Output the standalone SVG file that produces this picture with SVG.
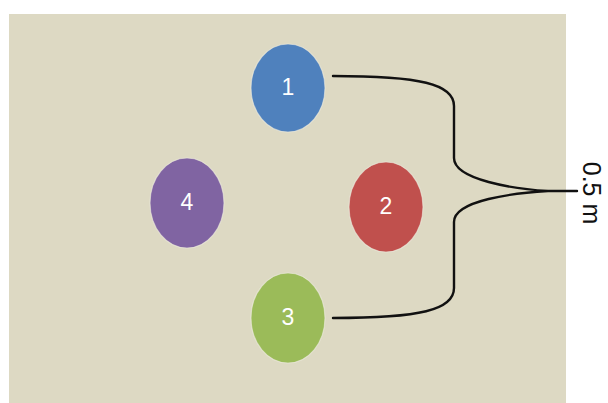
<svg xmlns="http://www.w3.org/2000/svg" width="608" height="403" viewBox="0 0 608 403">
<style>
.node ellipse{stroke:#eeece1;stroke-width:1.2;stroke-opacity:0.6}
.lbl{font-family:"Liberation Sans",Arial,sans-serif;font-size:23px;fill:#ffffff;text-anchor:middle}
.brace{fill:none;stroke:#111111;stroke-width:2.4;stroke-linecap:round}
</style>
<rect width="608" height="403" fill="#ffffff"/>
<rect x="9" y="14" width="557" height="389" fill="#ddd9c3"/>
<g id="node1" class="node"><ellipse cx="288" cy="88" rx="37" ry="44" fill="#4f81bd"/><text class="lbl" x="288" y="95">1</text></g>
<g id="node2" class="node"><ellipse cx="386" cy="207" rx="37" ry="45" fill="#c0504d"/><text class="lbl" x="386" y="214">2</text></g>
<g id="node3" class="node"><ellipse cx="288" cy="318" rx="37" ry="45" fill="#9bbb59"/><text class="lbl" x="288" y="325">3</text></g>
<g id="node4" class="node"><ellipse cx="187" cy="203" rx="37" ry="45" fill="#8064a2"/><text class="lbl" x="187" y="210">4</text></g>
<g id="connectors">
<path class="brace" d="M333,76 C420,76 454,84 454,106 L454,158 C454,180 515,189 548,191 L577,191 M548,191 C515,193 454,200 454,222 L454,288 C454,310 420,318 333,318"/>
</g>
<text x="583" y="193" transform="rotate(90 583 193)" font-family="Liberation Sans,Arial,sans-serif" font-size="25" fill="#111111" text-anchor="middle">0.5 m</text>
</svg>
